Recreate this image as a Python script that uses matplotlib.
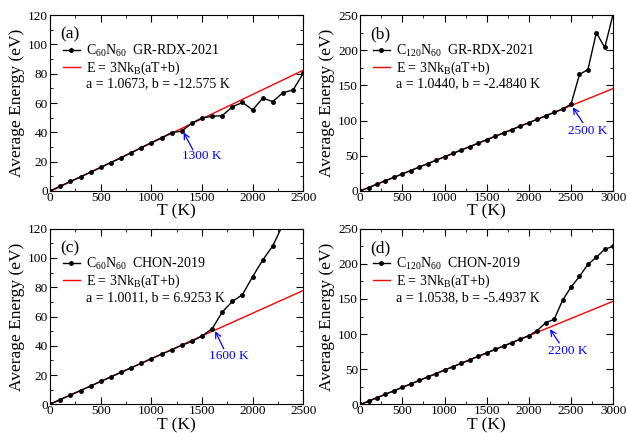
import matplotlib
matplotlib.use("Agg")
import matplotlib.pyplot as plt
from matplotlib.lines import Line2D
from matplotlib.ticker import MultipleLocator

plt.rcParams['font.family'] = ['Liberation Serif', 'DejaVu Serif']
plt.rcParams['mathtext.fontset'] = 'custom'
plt.rcParams['mathtext.rm'] = 'Liberation Serif'
plt.rcParams['mathtext.it'] = 'Liberation Serif:italic'

# ---- data ----
T_a = list(range(0, 2600, 100))
E_a = [0, 3.3, 6.5, 9.6, 12.8, 16.0, 19.3, 22.6, 26.0, 29.5, 33.0, 36.3, 39.8,
       40.8, 46.3, 49.8, 50.9, 51.4, 57.4, 60.4, 55.3, 63.3, 61.0, 67.1, 68.9, 80.3]
fit_T_a = [0, 2500]
fit_E_a = [-0.4, 82.4]

T_b = list(range(0, 3100, 100))
E_b = [0, 4.7, 9.6, 14.5, 19.3, 24.2, 29.0, 33.9, 38.8, 43.6, 48.5, 53.3, 58.2,
       63.0, 67.9, 72.8, 77.6, 82.5, 87.3, 92.2, 97.0, 101.9, 106.8, 111.6,
       116.5, 123.4, 165.6, 172.6, 225.0, 204.0, 252.0]
fit_T_b = [0, 3000]
fit_E_b = [-0.1, 145.6]

T_c = list(range(0, 2400, 100))
E_c = [0.2, 3.3, 6.4, 9.5, 12.6, 15.7, 18.8, 21.9, 25.0, 28.1, 31.2, 34.3, 37.3,
       40.4, 43.0, 46.8, 51.6, 63.1, 70.3, 75.0, 87.2, 98.6, 108.3, 123.0]
fit_T_c = [0, 2500]
fit_E_c = [0.2, 77.8]

T_d = list(range(0, 3100, 100))
E_d = [0, 4.6, 9.6, 14.5, 19.4, 24.3, 29.2, 34.1, 39.0, 43.9, 48.8, 53.7, 58.6,
       63.5, 68.4, 73.3, 78.2, 83.1, 88.0, 92.9, 97.8, 105.1, 116.3, 121.0,
       148.2, 167.0, 182.0, 199.3, 209.2, 221.0, 224.7]
fit_T_d = [0, 3000]
fit_E_d = [-0.3, 146.8]

panels = [
    ("(a)", T_a, E_a, fit_T_a, fit_E_a, r"C$_{60}$N$_{60}$  GR-RDX-2021",
     "a = 1.0673, b = -12.575 K", 2500, 120, 500, 250, 20, 10,
     "1300 K", (1318, 40), (1410, 28), (1500, 23.5)),
    ("(b)", T_b, E_b, fit_T_b, fit_E_b, r"C$_{120}$N$_{60}$  GR-RDX-2021",
     "a = 1.0440, b = -2.4840 K", 3000, 250, 500, 250, 50, 25,
     "2500 K", (2520, 119), (2640, 97), (2694, 84.5)),
    ("(c)", T_c, E_c, fit_T_c, fit_E_c, r"C$_{60}$N$_{60}$  CHON-2019",
     "a = 1.0011, b = 6.9253 K", 2500, 120, 500, 250, 20, 10,
     "1600 K", (1630, 50), (1715, 38), (1768, 33)),
    ("(d)", T_d, E_d, fit_T_d, fit_E_d, r"C$_{120}$N$_{60}$  CHON-2019",
     "a = 1.0538, b = -5.4937 K", 3000, 250, 500, 250, 50, 25,
     "2200 K", (2250, 107), (2360, 87.5), (2457, 76.5)),
]

fig, axes = plt.subplots(2, 2, figsize=(6.27, 4.33), dpi=100)
fig.subplots_adjust(left=0.08, right=0.978, top=0.965, bottom=0.066,
                    wspace=0.225, hspace=0.215)

for ax, p in zip(axes.flat, panels):
    (lab, T, E, fT, fE, name, params, xmax, ymax, xmaj, xmin_, ymaj, ymin_,
     note, head, tail, txt) = p
    ax.plot(fT, fE, color="red", lw=1.0, zorder=2)
    ax.plot(T, E, color="black", lw=1.0, marker="o", ms=2.5, zorder=3)
    ax.set_xlim(0, xmax)
    ax.set_ylim(0, ymax)
    ax.xaxis.set_major_locator(MultipleLocator(xmaj))
    ax.xaxis.set_minor_locator(MultipleLocator(xmin_))
    ax.yaxis.set_major_locator(MultipleLocator(ymaj))
    ax.yaxis.set_minor_locator(MultipleLocator(ymin_))
    ax.tick_params(which="both", direction="in", top=True, right=True,
                   labelsize=9.5)
    ax.tick_params(axis="x", pad=0.5)
    ax.tick_params(axis="y", pad=1.5)
    ax.tick_params(which="major", length=5)
    ax.tick_params(which="minor", length=2.5)
    ax.set_xlabel("T (K)", fontsize=12.5, labelpad=0)
    ax.set_ylabel("Average Energy (eV)", fontsize=12.5, labelpad=2)
    ax.text(0.04, 0.935, lab, transform=ax.transAxes, fontsize=12.5,
            ha="left", va="top")

    handles = [
        Line2D([0], [0], color="black", lw=1.0, marker="o", ms=2.5,
               markevery=[0, -1]),
        Line2D([0], [0], color="red", lw=1.0),
        Line2D([0], [0], color="none"),
    ]
    ax.legend(handles, [name, r"E = 3Nk$_{\mathrm{B}}$(aT+b)", params],
              loc="upper left", bbox_to_anchor=(0.04, 0.86), frameon=False,
              fontsize=10, handlelength=1.2, handletextpad=0.45,
              labelspacing=0.05, borderpad=0.2, borderaxespad=0)

    ax.annotate("", xy=head, xytext=tail,
                arrowprops=dict(arrowstyle="->", color="blue", lw=0.9,
                                shrinkA=0, shrinkB=0))
    ax.text(txt[0], txt[1], note, color="blue", fontsize=9.5,
            ha="center", va="center")

fig.savefig("out.png", dpi=100)
